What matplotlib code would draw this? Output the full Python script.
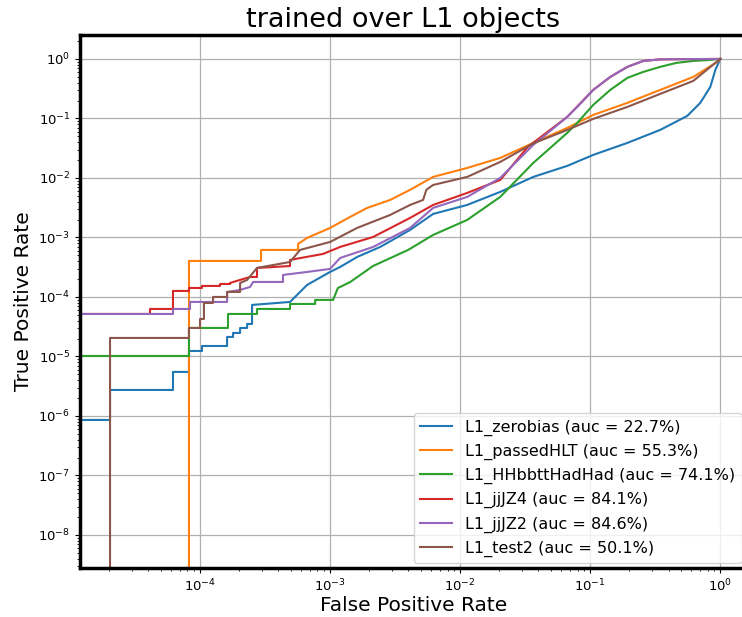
import numpy as np
import matplotlib
matplotlib.use("Agg")
import matplotlib.pyplot as plt

ninf = -np.inf

# log10 values; -inf means an exact 0 (clipped on the log axes)
zb_lx = [ninf, -4.692, -4.692, -4.208, -4.208, -4.085, -4.085, -3.985, -3.985, -3.792, -3.792,
         -3.746, -3.746, -3.692, -3.692, -3.638, -3.638, -3.6, -3.6, -3.40, -3.308, -3.177,
         -3.0, -2.923, -2.792, -2.615, -2.385, -2.208, -1.946, -1.692, -1.438, -1.177,
         -0.977, -0.715, -0.462, -0.254, -0.154, -0.077, -0.038, 0.0]
zb_ly = [-6.067, -6.067, -5.563, -5.563, -5.26, -5.26, -4.908, -4.908, -4.824, -4.824, -4.672,
         -4.672, -4.605, -4.605, -4.521, -4.521, -4.454, -4.454, -4.134, -4.10, -4.084, -3.798,
         -3.58, -3.496, -3.328, -3.16, -2.874, -2.605, -2.454, -2.235, -1.983, -1.798,
         -1.613, -1.412, -1.193, -0.958, -0.739, -0.471, -0.185, 0.0]

hlt_lx = [ninf, -4.085, -4.085, -3.531, -3.531, -3.246, -3.246, -3.177, -3.0, -2.846, -2.715,
          -2.538, -2.385, -2.208, -1.946, -1.692, -1.438, -1.177, -0.977, -0.715, -0.462,
          -0.208, -0.023, 0.0]
hlt_ly = [ninf, ninf, -3.395, -3.395, -3.21, -3.21, -3.109, -3.008, -2.84, -2.655, -2.504,
          -2.37, -2.2, -1.983, -1.832, -1.664, -1.412, -1.16, -0.941, -0.739, -0.521,
          -0.303, -0.05, 0.0]

hh_lx = [ninf, -4.085, -4.085, -3.785, -3.785, -3.562, -3.562, -3.308, -3.308, -3.115, -3.115,
         -2.977, -2.94, -2.846, -2.67, -2.4, -2.208, -1.946, -1.692, -1.438, -1.177, -1.1,
         -0.977, -0.846, -0.715, -0.592, -0.462, -0.338, -0.208, -0.077, 0.0]
hh_ly = [-4.992, -4.992, -4.521, -4.521, -4.286, -4.286, -4.202, -4.202, -4.118, -4.118, -4.05,
         -4.05, -3.85, -3.75, -3.48, -3.21, -2.958, -2.706, -2.319, -1.748, -1.244, -1.076,
         -0.773, -0.521, -0.319, -0.218, -0.134, -0.067, -0.034, -0.017, 0.0]

jz4_lx = [ninf, -4.385, -4.385, -4.208, -4.208, -4.085, -4.085, -3.985, -3.985, -3.846, -3.846,
          -3.769, -3.769, -3.692, -3.615, -3.562, -3.562, -3.308, -3.308, -3.054, -2.923,
          -2.669, -2.385, -2.208, -1.946, -1.692, -1.48, -1.177, -0.977, -0.846, -0.715,
          -0.592, -0.462, 0.0]
jz4_ly = [-4.286, -4.286, -4.202, -4.202, -3.899, -3.899, -3.849, -3.849, -3.815, -3.815, -3.782,
          -3.782, -3.765, -3.714, -3.664, -3.664, -3.513, -3.48, -3.378, -3.277, -3.16,
          -2.992, -2.672, -2.454, -2.252, -2.034, -1.479, -0.975, -0.521, -0.303, -0.134,
          -0.034, -0.008, 0.0]

jz2_lx = [ninf, -4.208, -4.208, -4.077, -4.077, -3.792, -3.792, -3.692, -3.615, -3.592, -3.362,
          -3.362, -3.177, -3.0, -2.923, -2.669, -2.385, -2.208, -1.946, -1.692, -1.438,
          -1.177, -1.1, -0.977, -0.846, -0.715, -0.592, -0.462, 0.0]
jz2_ly = [-4.286, -4.286, -4.202, -4.202, -4.084, -4.084, -3.916, -3.882, -3.832, -3.748, -3.748,
          -3.63, -3.58, -3.529, -3.345, -3.16, -2.84, -2.504, -2.319, -2.0, -1.445,
          -0.975, -0.807, -0.521, -0.303, -0.134, -0.034, -0.008, 0.0]

t2_lx = [ninf, -4.692, -4.692, -4.085, -4.085, -4.0, -4.0, -3.97, -3.97, -3.90, -3.90, -3.792,
         -3.792, -3.692, -3.692, -3.638, -3.562, -3.308, -3.231, -3.0, -2.792, -2.538, -2.385,
         -2.285, -2.26, -2.208, -1.946, -1.692, -1.438, -1.177, -0.977, -0.715, -0.462,
         -0.208, -0.04, 0.0]
t2_ly = [ninf, ninf, -4.689, -4.689, -4.521, -4.521, -4.37, -4.37, -4.101, -4.101, -4.0, -4.0,
         -3.916, -3.916, -3.765, -3.714, -3.513, -3.412, -3.21, -3.076, -2.84, -2.622, -2.454,
         -2.37, -2.2, -2.118, -1.983, -1.731, -1.42, -1.193, -1.008, -0.807, -0.588,
         -0.37, -0.07, 0.0]

names = ["L1_zerobias", "L1_passedHLT", "L1_HHbbttHadHad", "L1_jjJZ4", "L1_jjJZ2", "L1_test2"]
aucs = [22.7, 55.3, 74.1, 84.1, 84.6, 50.1]
curves = [(zb_lx, zb_ly), (hlt_lx, hlt_ly), (hh_lx, hh_ly),
          (jz4_lx, jz4_ly), (jz2_lx, jz2_ly), (t2_lx, t2_ly)]

fig = plt.figure(figsize=(7.42, 6.17), dpi=100)
ax = fig.add_axes([0.1078, 0.0794, 0.898, 0.864])

for (lx, ly), name, auc in zip(curves, names, aucs):
    fpr = np.power(10.0, np.array(lx))
    tpr = np.power(10.0, np.array(ly))
    ax.plot(fpr, tpr, lw=1.5, label=f"{name} (auc = {auc:.1f}%)")

ax.set_xscale("log")
ax.set_yscale("log")
ax.set_xlim(10 ** -4.923, 10 ** 0.2)
ax.set_ylim(10 ** -8.555, 10 ** 0.403)
ax.grid(True, which="major", color="#b0b0b0", lw=0.9)
ax.tick_params(labelsize=9.5)

for s in ["left", "top", "bottom"]:
    ax.spines[s].set_linewidth(2.5)
    ax.spines[s].set_color("black")

ax.set_title("trained over L1 objects", fontsize=19.5, x=0.485)
ax.set_xlabel("False Positive Rate", fontsize=14.5, labelpad=1)
ax.set_ylabel("True Positive Rate", fontsize=14.5)
ax.legend(loc="lower right", fontsize=11.5, borderaxespad=0.3)

fig.savefig("out.png", dpi=100)
